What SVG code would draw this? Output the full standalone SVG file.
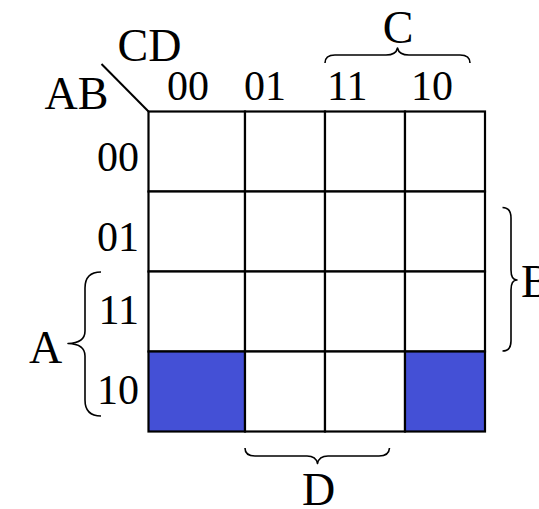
<svg xmlns="http://www.w3.org/2000/svg" width="539" height="509" viewBox="0 0 539 509">
<style>
.cell{fill:#fff;stroke:#000;stroke-width:2.2}
.on{fill:#4450D6}
.brace{fill:none;stroke:#000;stroke-width:1.6;stroke-linejoin:round}
.lbl{font-family:"Liberation Serif","Times New Roman",serif;font-size:46px;fill:#000}
.num{font-family:"Liberation Serif","Times New Roman",serif;font-size:42px;fill:#000}
</style>
<rect width="539" height="509" fill="#fff"/>
<g id="grid">
<g id="cells-row00">
<rect class="cell" x="148.5" y="111.5" width="96.5" height="80"/>
<rect class="cell" x="245" y="111.5" width="80" height="80"/>
<rect class="cell" x="325" y="111.5" width="80" height="80"/>
<rect class="cell" x="405" y="111.5" width="80" height="80"/>
</g>
<g id="cells-row01">
<rect class="cell" x="148.5" y="191.5" width="96.5" height="80"/>
<rect class="cell" x="245" y="191.5" width="80" height="80"/>
<rect class="cell" x="325" y="191.5" width="80" height="80"/>
<rect class="cell" x="405" y="191.5" width="80" height="80"/>
</g>
<g id="cells-row11">
<rect class="cell" x="148.5" y="271.5" width="96.5" height="80"/>
<rect class="cell" x="245" y="271.5" width="80" height="80"/>
<rect class="cell" x="325" y="271.5" width="80" height="80"/>
<rect class="cell" x="405" y="271.5" width="80" height="80"/>
</g>
<g id="cells-row10">
<rect class="cell on" x="148.5" y="351.5" width="96.5" height="80"/>
<rect class="cell" x="245" y="351.5" width="80" height="80"/>
<rect class="cell" x="325" y="351.5" width="80" height="80"/>
<rect class="cell on" x="405" y="351.5" width="80" height="80"/>
</g>
</g>
<g id="corner">
<line x1="101.5" y1="64" x2="148.5" y2="111.5" stroke="#000" stroke-width="2"/>
<text class="lbl" x="149.5" y="61" text-anchor="middle">CD</text>
<text class="lbl" x="76.5" y="109" text-anchor="middle">AB</text>
</g>
<g id="col-labels">
<text class="num" x="167" y="100">00</text>
<text class="num" x="244" y="100">01</text>
<text class="num" x="327" y="100">11</text>
<text class="num" x="411" y="100">10</text>
</g>
<g id="row-labels">
<text class="num" x="139" y="170.5" text-anchor="end">00</text>
<text class="num" x="139" y="250.5" text-anchor="end">01</text>
<text class="num" x="139" y="324" text-anchor="end">11</text>
<text class="num" x="139" y="403.5" text-anchor="end">10</text>
</g>
<g id="braces">
<g id="brace-C">
<path class="brace" d="M325,63 Q325,55 335,55 L386,55 Q396,55 397.5,48 Q399,55 409,55 L460,55 Q470,55 470,63"/>
<text class="lbl" x="398" y="42.5" text-anchor="middle">C</text>
</g>
<g id="brace-A">
<path class="brace" d="M101,272 Q85,272 85,288 L85,331 Q85,343 68,343.5 Q85,344 85,356 L85,400 Q85,416 101,416"/>
<text class="lbl" x="45.5" y="362.5" text-anchor="middle">A</text>
</g>
<g id="brace-B">
<path class="brace" d="M502.5,207.5 Q511,207.5 511,218 L511,270 Q511,280 517,280 Q511,280 511,290 L511,341 Q511,351 502.5,351"/>
<text class="lbl" x="521" y="297">B</text>
</g>
<g id="brace-D">
<path class="brace" d="M245,448 Q245,456 255,456 L307,456 Q316,456 317.5,463.5 Q319,456 328,456 L379,456 Q389,456 389.5,448"/>
<text class="lbl" x="318.5" y="505" text-anchor="middle">D</text>
</g>
</g>
</svg>
